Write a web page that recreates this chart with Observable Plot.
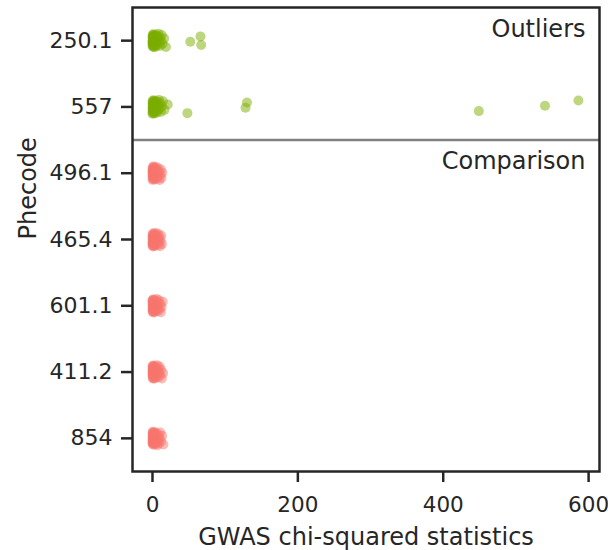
<!DOCTYPE html>
<html>
<head>
<meta charset="utf-8">
<script src="https://cdn.jsdelivr.net/npm/d3@7"></script>
<script src="https://cdn.jsdelivr.net/npm/@observablehq/plot@0.6"></script>
<style>
  html, body { margin: 0; padding: 0; background: #fff; }
  #chart { width: 608px; height: 550px; }
</style>
</head>
<body>
<div id="chart"></div>
<script>
// Phecodes, top to bottom
const categories = ["250.1", "557", "496.1", "465.4", "601.1", "411.2", "854"];
const groupOf = ["Outliers", "Outliers", "Comparison", "Comparison", "Comparison", "Comparison", "Comparison"];
const xTicks = [0, 200, 400, 600];

// GWAS chi-squared statistics per phecode (bulk near zero + outliers)
const vals_250_1 = [0.0, 0.1, 0.1, 0.2, 0.3, 0.3, 0.4, 0.5, 0.6, 0.7, 0.8, 0.9, 1.0, 1.1, 1.3, 1.4, 1.6, 1.8, 2.0, 2.2, 2.4, 2.7, 3.0, 3.3, 3.6, 4.0, 4.4, 4.8, 5.3, 5.8, 6.3, 6.9, 7.5, 8.2, 9.0, 9.8, 10.7, 11.5, 12.6, 14.0, 16.0, 18.5, 52, 66, 67];
const vals_557   = [0.0, 0.1, 0.1, 0.2, 0.3, 0.3, 0.4, 0.5, 0.6, 0.7, 0.8, 0.9, 1.0, 1.1, 1.3, 1.4, 1.6, 1.8, 2.0, 2.2, 2.4, 2.7, 3.0, 3.3, 3.6, 4.0, 4.4, 4.8, 5.3, 5.8, 6.3, 6.9, 7.5, 8.2, 9.0, 9.8, 10.7, 11.6, 12.8, 14.3, 16.5, 21.0, 48, 128, 130, 449, 540, 586];
const vals_496_1 = [0.0, 0.1, 0.1, 0.2, 0.3, 0.3, 0.4, 0.5, 0.6, 0.7, 0.8, 0.9, 1.0, 1.1, 1.3, 1.4, 1.6, 1.8, 2.0, 2.2, 2.4, 2.7, 3.0, 3.3, 3.6, 4.0, 4.4, 4.8, 5.3, 5.8, 6.3, 6.9, 7.5, 8.2, 9.0, 9.8, 10.6, 11.4, 12.3, 13.5];
const vals_465_4 = [0.0, 0.1, 0.1, 0.2, 0.3, 0.3, 0.4, 0.5, 0.6, 0.7, 0.8, 0.9, 1.0, 1.1, 1.3, 1.4, 1.6, 1.8, 2.0, 2.2, 2.4, 2.7, 3.0, 3.3, 3.6, 4.0, 4.4, 4.8, 5.3, 5.8, 6.3, 6.9, 7.5, 8.2, 9.0, 9.7, 10.4, 11.1, 12.0, 13.0];
const vals_601_1 = [0.0, 0.1, 0.1, 0.2, 0.3, 0.3, 0.4, 0.5, 0.6, 0.7, 0.8, 0.9, 1.0, 1.1, 1.3, 1.4, 1.6, 1.8, 2.0, 2.2, 2.4, 2.7, 3.0, 3.3, 3.6, 4.0, 4.4, 4.8, 5.3, 5.8, 6.3, 6.9, 7.5, 8.2, 9.0, 9.8, 10.6, 11.5, 12.6, 14.0];
const vals_411_2 = [0.0, 0.1, 0.1, 0.2, 0.3, 0.3, 0.4, 0.5, 0.6, 0.7, 0.8, 0.9, 1.0, 1.1, 1.3, 1.4, 1.6, 1.8, 2.0, 2.2, 2.4, 2.7, 3.0, 3.3, 3.6, 4.0, 4.4, 4.8, 5.3, 5.8, 6.3, 6.9, 7.5, 8.2, 9.0, 9.8, 10.7, 11.7, 12.9, 14.6];
const vals_854   = [0.0, 0.1, 0.1, 0.2, 0.3, 0.3, 0.4, 0.5, 0.6, 0.7, 0.8, 0.9, 1.0, 1.1, 1.3, 1.4, 1.6, 1.8, 2.0, 2.2, 2.4, 2.7, 3.0, 3.3, 3.6, 4.0, 4.4, 4.8, 5.3, 5.8, 6.3, 6.9, 7.5, 8.2, 9.0, 9.8, 10.7, 11.8, 13.2, 15.0];
const seriesValues = [vals_250_1, vals_557, vals_496_1, vals_465_4, vals_601_1, vals_411_2, vals_854];

const colors = { Outliers: "#7cae00", Comparison: "#f8766d" };

// Build table; vertical jitter is a deterministic low-discrepancy offset (strip-plot style)
const rows = [];
seriesValues.forEach((arr, ci) => {
  arr.forEach((v, k) => {
    const j = (((k + 1) * 0.6180339887 + ci * 0.37) % 1) - 0.5;
    rows.push({ phecode: categories[ci], pos: ci + j * 0.21, value: v, group: groupOf[ci] });
  });
});

const font = "DejaVu Sans, sans-serif";
const ink = "#262626";

const chart = Plot.plot({
  width: 608,
  height: 550,
  marginLeft: 132,
  marginRight: 9,
  marginTop: 7,
  marginBottom: 79,
  style: { fontFamily: font, fontSize: "22px", color: ink, background: "#fff" },
  x: { domain: [-27.5, 615] },
  y: { domain: [-0.5, categories.length - 0.5], reverse: true },
  marks: [
    Plot.ruleY([1.5], { stroke: "#808080", strokeWidth: 2.5 }),
    Plot.dot(rows, {
      x: "value",
      y: "pos",
      r: 5,
      fill: d => colors[d.group],
      fillOpacity: 0.5,
      stroke: "none"
    }),
    Plot.text(["Outliers"], {
      frameAnchor: "top-right", dx: -14, dy: 22,
      fontSize: 24, fill: ink, textAnchor: "end", lineAnchor: "middle"
    }),
    Plot.text(["Comparison"], {
      y: [1.5], frameAnchor: "right", dx: -14, dy: 21,
      fontSize: 24, fill: ink, textAnchor: "end", lineAnchor: "middle"
    }),
    Plot.axisX(xTicks, {
      tickSize: 11, tickPadding: 14, strokeWidth: 2.5, stroke: ink,
      fontSize: 21.5, fill: ink, label: null
    }),
    Plot.axisY(categories.map((c, i) => i), {
      tickSize: 11, tickPadding: 9, strokeWidth: 2.5, stroke: ink,
      tickFormat: i => categories[i], fontSize: 22, fill: ink, label: null
    }),
    Plot.text(["GWAS chi-squared statistics"], {
      frameAnchor: "bottom", dy: 66, fontSize: 24, fill: ink, lineAnchor: "middle"
    }),
    Plot.text(["Phecode"], {
      frameAnchor: "left", dx: -104, rotate: -90, fontSize: 24, fill: ink
    }),
    Plot.frame({ stroke: ink, strokeWidth: 2.5 })
  ]
});

document.getElementById("chart").appendChild(chart);
</script>
</body>
</html>
